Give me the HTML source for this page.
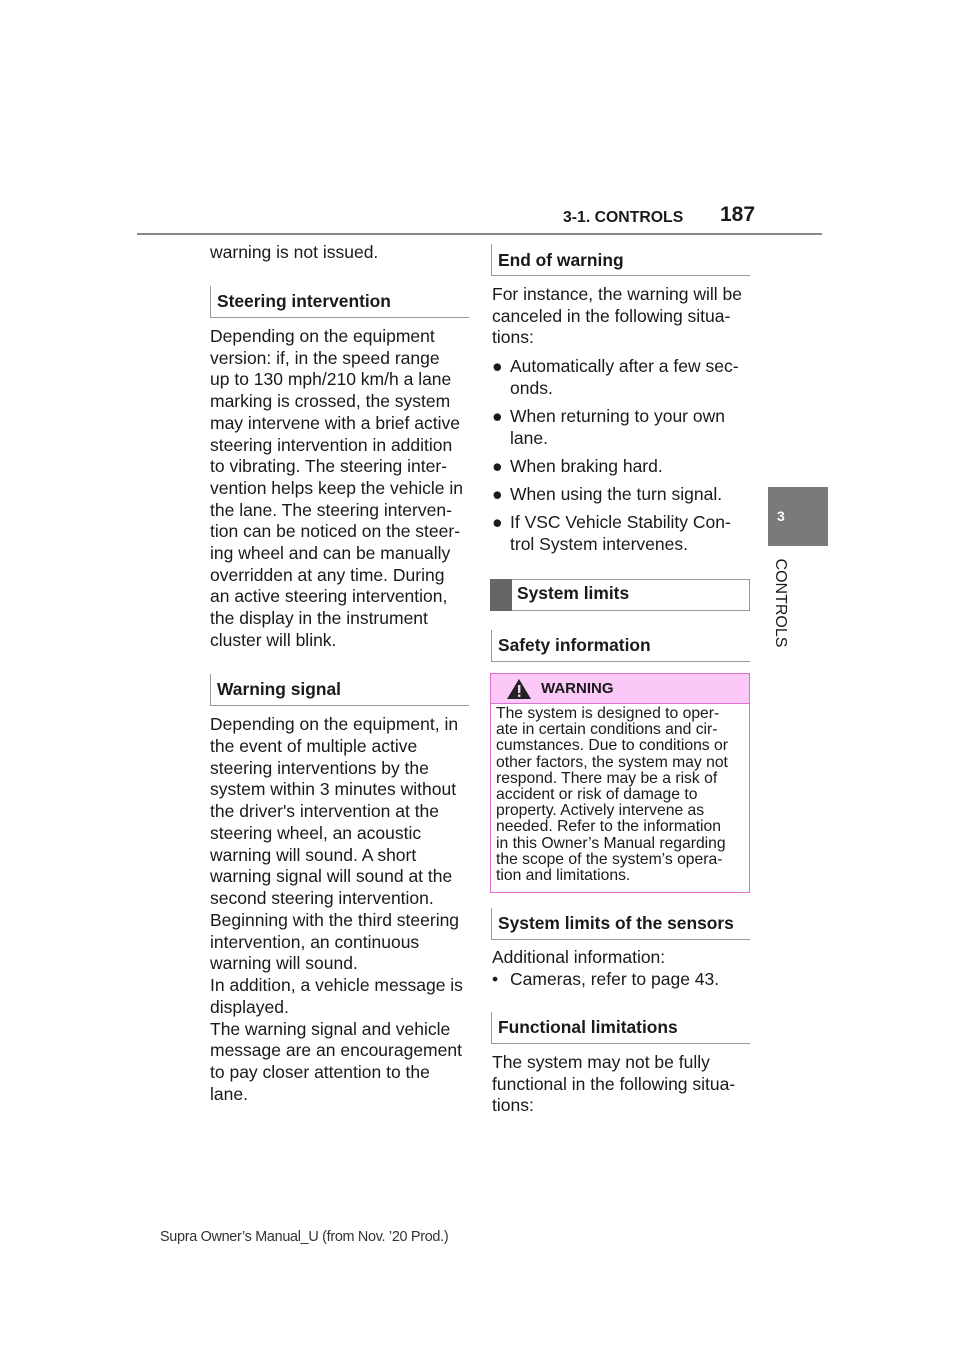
<!DOCTYPE html>
<html><head><meta charset="utf-8"><style>
body{margin:0;width:960px;height:1358px;background:#fff;position:relative;font-family:"Liberation Sans",sans-serif;color:#1a1a1a;overflow:hidden}
.a{position:absolute;white-space:nowrap}
.t{position:absolute;font-size:17.5px;line-height:21.7px;white-space:nowrap}
.h{position:absolute;font-size:17.4px;font-weight:bold;white-space:nowrap}
.hb{position:absolute;border-left:1px solid #999;border-bottom:1px solid #999}
</style></head><body>
<div class="a" style="left:563px;top:209px;font-size:15.8px;font-weight:bold">3-1. CONTROLS</div>
<div class="a" style="left:720px;top:203px;font-size:21px;font-weight:bold">187</div>
<div class="a" style="left:137px;top:233px;width:685px;height:2px;background:#888"></div>
<div class="a" style="left:768px;top:487px;width:60px;height:59px;background:#7a7a7a"></div>
<div class="a" style="left:777px;top:508px;font-size:14px;font-weight:bold;color:#fff">3</div>
<div class="a" style="left:734px;top:594px;font-size:16px;transform:rotate(90deg);width:92px;text-align:center">CONTROLS</div>

<div class="t" style="left:210px;top:242px">warning is not issued.</div>
<div class="hb" style="left:210px;top:286px;width:258px;height:31px"></div>
<div class="h" style="left:217px;top:291px">Steering intervention</div>
<div class="t" style="left:210px;top:326px">Depending on the equipment<br>version: if, in the speed range<br>up to 130 mph/210 km/h a lane<br>marking is crossed, the system<br>may intervene with a brief active<br>steering intervention in addition<br>to vibrating. The steering inter-<br>vention helps keep the vehicle in<br>the lane. The steering interven-<br>tion can be noticed on the steer-<br>ing wheel and can be manually<br>overridden at any time. During<br>an active steering intervention,<br>the display in the instrument<br>cluster will blink.</div>
<div class="hb" style="left:210px;top:674px;width:258px;height:31px"></div>
<div class="h" style="left:217px;top:679px">Warning signal</div>
<div class="t" style="left:210px;top:714px;line-height:21.76px">Depending on the equipment, in<br>the event of multiple active<br>steering interventions by the<br>system within 3 minutes without<br>the driver's intervention at the<br>steering wheel, an acoustic<br>warning will sound. A short<br>warning signal will sound at the<br>second steering intervention.<br>Beginning with the third steering<br>intervention, an continuous<br>warning will sound.<br>In addition, a vehicle message is<br>displayed.<br>The warning signal and vehicle<br>message are an encouragement<br>to pay closer attention to the<br>lane.</div>

<div class="hb" style="left:491px;top:244px;width:258px;height:31px"></div>
<div class="h" style="left:498px;top:250px">End of warning</div>
<div class="t" style="left:492px;top:284px">For instance, the warning will be<br>canceled in the following situa-<br>tions:</div>
<div class="t" style="left:492px;top:356px"><span style="position:absolute;left:0;top:0">●</span><div style="margin-left:18px">Automatically after a few sec-<br>onds.</div></div>
<div class="t" style="left:492px;top:406px"><span style="position:absolute;left:0;top:0">●</span><div style="margin-left:18px">When returning to your own<br>lane.</div></div>
<div class="t" style="left:492px;top:456px"><span style="position:absolute;left:0;top:0">●</span><div style="margin-left:18px">When braking hard.</div></div>
<div class="t" style="left:492px;top:484px"><span style="position:absolute;left:0;top:0">●</span><div style="margin-left:18px">When using the turn signal.</div></div>
<div class="t" style="left:492px;top:512px"><span style="position:absolute;left:0;top:0">●</span><div style="margin-left:18px">If VSC Vehicle Stability Con-<br>trol System intervenes.</div></div>

<div class="a" style="left:490px;top:579px;width:258px;height:30px;border:1px solid #999"></div>
<div class="a" style="left:490px;top:579px;width:22px;height:32px;background:#666"></div>
<div class="h" style="left:517px;top:583px">System limits</div>
<div class="hb" style="left:491px;top:630px;width:258px;height:31px"></div>
<div class="h" style="left:498px;top:635px">Safety information</div>

<div class="a" style="left:490px;top:673px;width:258px;height:218px;border:1px solid #e070d0"></div>
<div class="a" style="left:491px;top:674px;width:258px;height:29px;background:#fcc8f8;border-bottom:1px solid #e070d0"></div>
<svg class="a" style="left:506px;top:678px" width="26" height="22"><polygon points="13,1 25,21 1,21" fill="#222"/><rect x="12" y="7" width="2.4" height="8" fill="#fcc8f8"/><rect x="12" y="16.5" width="2.4" height="2.4" fill="#fcc8f8"/></svg>
<div class="a" style="left:541px;top:680px;font-size:15px;font-weight:bold">WARNING</div>
<div class="a" style="left:496px;top:706px;font-size:15.7px;line-height:16.2px">The system is designed to oper-<br>ate in certain conditions and cir-<br>cumstances. Due to conditions or<br>other factors, the system may not<br>respond. There may be a risk of<br>accident or risk of damage to<br>property. Actively intervene as<br>needed. Refer to the information<br>in this Owner’s Manual regarding<br>the scope of the system’s opera-<br>tion and limitations.</div>

<div class="hb" style="left:491px;top:908px;width:258px;height:31px"></div>
<div class="h" style="left:498px;top:913px">System limits of the sensors</div>
<div class="t" style="left:492px;top:947px">Additional information:</div>
<div class="t" style="left:492px;top:969px">•</div>
<div class="t" style="left:510px;top:969px">Cameras, refer to page 43.</div>
<div class="hb" style="left:491px;top:1012px;width:258px;height:31px"></div>
<div class="h" style="left:498px;top:1017px">Functional limitations</div>
<div class="t" style="left:492px;top:1052px">The system may not be fully<br>functional in the following situa-<br>tions:</div>

<div class="a" style="left:160px;top:1229px;font-size:14.4px;letter-spacing:-0.3px;color:#333">Supra Owner’s Manual_U (from Nov. ’20 Prod.)</div>
</body></html>
